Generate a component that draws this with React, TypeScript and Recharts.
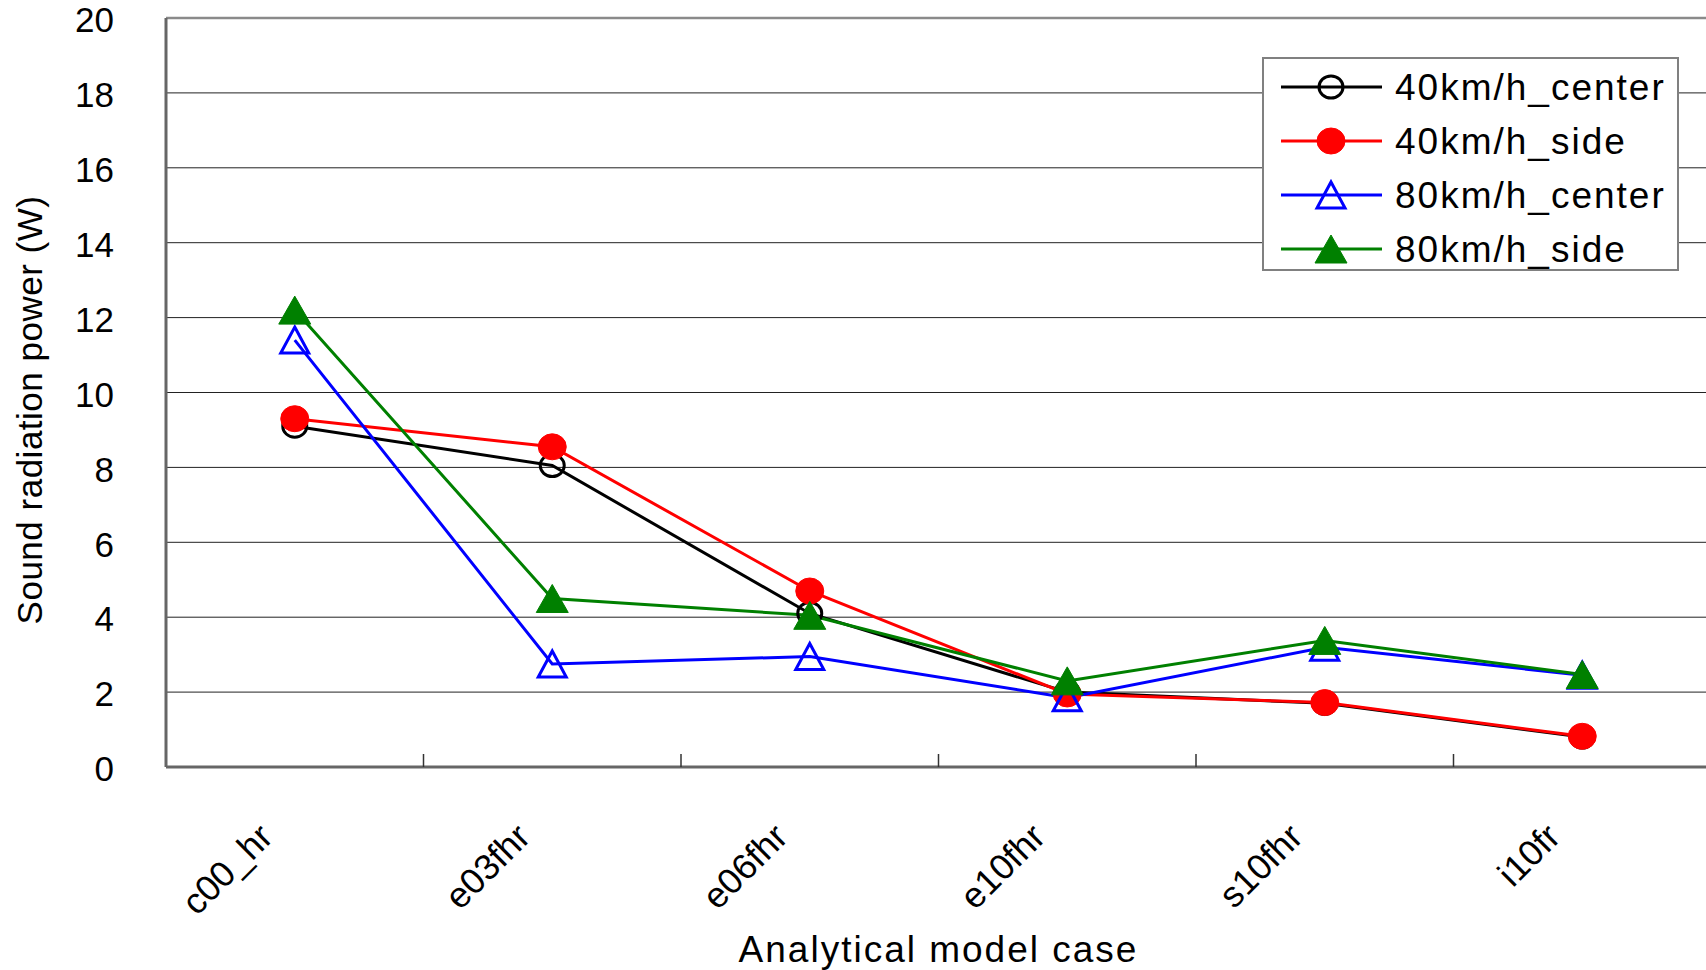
import { LineChart, Line, XAxis, YAxis, CartesianGrid, Legend, ReferenceLine } from "recharts";

const categories = ["c00_hr", "e03fhr", "e06fhr", "e10fhr", "s10fhr", "i10fr"];
const center40 = [9.1, 8.05, 4.1, 2.0, 1.7, 0.8];
const side40 = [9.3, 8.55, 4.7, 1.95, 1.72, 0.82];
const center80 = [11.4, 2.75, 2.95, 1.85, 3.2, 2.45];
const side80 = [12.2, 4.5, 4.05, 2.3, 3.38, 2.47];
const yTicks = [0, 2, 4, 6, 8, 10, 12, 14, 16, 18, 20];
const xTicks = [0, 0.5, 1, 1.5, 2, 2.5, 3, 3.5, 4, 4.5, 5];

const series = [
  { key: "c40", name: "40km/h_center", color: "#000000", shape: "circle", filled: false },
  { key: "s40", name: "40km/h_side", color: "#ff0000", shape: "circle", filled: true },
  { key: "c80", name: "80km/h_center", color: "#0000ff", shape: "triangle", filled: false },
  { key: "s80", name: "80km/h_side", color: "#008000", shape: "triangle", filled: true },
];

const data = categories.map((name, i) => ({
  x: i,
  name,
  c40: center40[i],
  s40: side40[i],
  c80: center80[i],
  s80: side80[i],
}));

const FONT = "'Liberation Sans', Arial, sans-serif";

function Marker({ cx, cy, shape, filled, color }: any) {
  if (cx == null || cy == null) return null;
  if (shape === "circle") {
    return filled ? (
      <ellipse cx={cx} cy={cy} rx={14} ry={13} fill={color} stroke={color} strokeWidth={1} />
    ) : (
      <ellipse cx={cx} cy={cy} rx={12} ry={11} fill="none" stroke={color} strokeWidth={3} />
    );
  }
  const h = filled ? 28 : 26;
  const w = filled ? 32 : 28;
  const pts = `${cx},${cy - h / 2} ${cx + w / 2},${cy + h / 2} ${cx - w / 2},${cy + h / 2}`;
  return filled ? (
    <polygon points={pts} fill={color} stroke={color} strokeWidth={1} />
  ) : (
    <polygon points={pts} fill="none" stroke={color} strokeWidth={3} />
  );
}

const XTick = ({ x, y, payload }: any) => {
  const v = payload.value;
  if (v % 1 !== 0) {
    return <line x1={x} y1={y} x2={x} y2={y - 13} stroke="#333" strokeWidth={1.5} />;
  }
  const tx = x - 20;
  const ty = y + 72;
  return (
    <text
      x={tx}
      y={ty}
      textAnchor="end"
      transform={`rotate(-45, ${tx}, ${ty})`}
      fontFamily={FONT}
      fontSize={36}
      fill="#000"
    >
      {categories[v]}
    </text>
  );
};

const YTick = ({ x, y, payload }: any) => (
  <text x={x} y={y + 5} textAnchor="end" dominantBaseline="middle" fontFamily={FONT} fontSize={35} fill="#000">
    {payload.value}
  </text>
);

const renderLegend = () => (
  <svg width={417} height={214}>
    <rect x={1} y={1} width={415} height={212} fill="#fff" stroke="#808080" strokeWidth={2} />
    {series.map((s, i) => {
      const cy = 30 + i * 54;
      return (
        <g key={s.key}>
          <line x1={19} y1={cy} x2={120} y2={cy} stroke={s.color} strokeWidth={3} />
          <Marker cx={69} cy={cy} shape={s.shape} filled={s.filled} color={s.color} />
          <text x={133} y={cy + 13} fontFamily={FONT} fontSize={37} letterSpacing={2} fill="#000">
            {s.name}
          </text>
        </g>
      );
    })}
  </svg>
);

export default function App() {
  return (
    <div
      style={{
        position: "absolute",
        left: 0,
        top: 0,
        width: 1706,
        height: 970,
        overflow: "hidden",
        background: "#fff",
      }}
    >
      <LineChart width={1722} height={970} data={data} margin={{ top: 18, right: 11, bottom: 0, left: 0 }}>
        <CartesianGrid vertical={false} stroke="#222" strokeWidth={1} />
        <ReferenceLine y={20} stroke="#8a8a8a" strokeWidth={2.5} />
        <XAxis
          dataKey="x"
          type="number"
          domain={[-0.5, 5.5]}
          ticks={xTicks}
          interval={0}
          tickLine={false}
          tickSize={0}
          tickMargin={0}
          tick={<XTick />}
          axisLine={{ stroke: "#666", strokeWidth: 3 }}
          height={203}
          label={{
            value: "Analytical model case",
            position: "insideBottom",
            offset: 8,
            fontFamily: FONT,
            fontSize: 37,
            letterSpacing: 2,
            fill: "#000",
          }}
        />
        <YAxis
          domain={[0, 20]}
          ticks={yTicks}
          interval={0}
          width={166}
          tickLine={false}
          tickSize={0}
          tickMargin={52}
          tick={<YTick />}
          axisLine={{ stroke: "#666", strokeWidth: 3 }}
          label={{
            content: () => (
              <text
                x={33}
                y={410}
                textAnchor="middle"
                dominantBaseline="middle"
                transform="rotate(-90, 33, 410)"
                fontFamily={FONT}
                fontSize={35}
                letterSpacing={0.5}
                fill="#000"
              >
                Sound radiation power (W)
              </text>
            ),
          }}
        />
        <Legend
          layout="vertical"
          verticalAlign="middle"
          align="center"
          wrapperStyle={{ position: "absolute", left: 1262, top: 57, width: 417, height: 214 }}
          content={renderLegend}
        />
        {series.map((s) => (
          <Line
            key={s.key}
            dataKey={s.key}
            name={s.name}
            stroke={s.color}
            strokeWidth={3}
            isAnimationActive={false}
            dot={(p: any) => <Marker key={`${s.key}-${p.index}`} cx={p.cx} cy={p.cy} shape={s.shape} filled={s.filled} color={s.color} />}
            activeDot={false}
          />
        ))}
      </LineChart>
    </div>
  );
}
